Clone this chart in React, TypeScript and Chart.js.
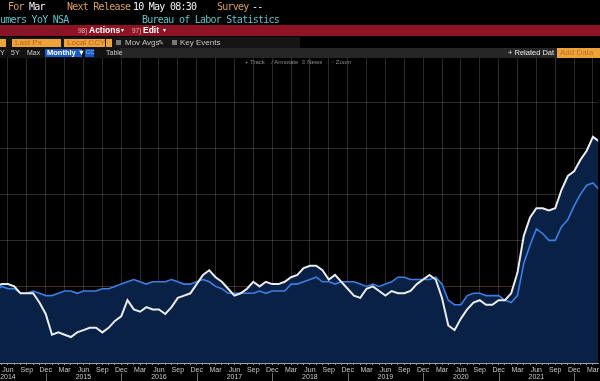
import React, { useEffect, useRef } from 'react';
import { Chart, registerables } from 'chart.js';

Chart.register(...registerables);

// ---------- data ----------
const MONTH_NAMES = ['Jan', 'Feb', 'Mar', 'Apr', 'May', 'Jun', 'Jul', 'Aug', 'Sep', 'Oct', 'Nov', 'Dec'];
const BASE_YEAR = 2014; // month index 0 = Jan 2014
const FIRST_MONTH_INDEX = 3; // series start: Apr 2014
const QUARTER_MONTHS = [2, 5, 8, 11]; // Mar, Jun, Sep, Dec
const Y_GRID_VALUES = [0, 2, 4, 6, 8, 10];

// CPI Urban Consumers YoY NSA (white line), Apr 2014 .. Apr 2022 (last point just off the right edge)
const cpiHeadline = [
  2.0, 2.1, 2.1, 2.0, 1.7, 1.7, 1.7, 1.3, 0.8,
  -0.1, 0.0, -0.1, -0.2, 0.0, 0.1, 0.2, 0.2, 0.0, 0.2, 0.5, 0.7,
  1.4, 1.0, 0.9, 1.1, 1.0, 1.0, 0.8, 1.1, 1.5, 1.6, 1.7, 2.1,
  2.5, 2.7, 2.4, 2.2, 1.9, 1.6, 1.7, 1.9, 2.2, 2.0, 2.2, 2.1,
  2.1, 2.2, 2.4, 2.5, 2.8, 2.9, 2.9, 2.7, 2.3, 2.5, 2.2, 1.9,
  1.6, 1.5, 1.9, 2.0, 1.8, 1.6, 1.8, 1.7, 1.7, 1.8, 2.1, 2.3,
  2.5, 2.3, 1.5, 0.3, 0.1, 0.6, 1.0, 1.3, 1.4, 1.2, 1.2, 1.4,
  1.4, 1.7, 2.6, 4.2, 5.0, 5.4, 5.4, 5.3, 5.4, 6.2, 6.8, 7.0,
  7.5, 7.9, 8.5, 8.3,
];

// Core CPI YoY (blue line), Apr 2014 .. Apr 2022
const cpiCore = [
  1.8, 2.0, 1.9, 1.9, 1.7, 1.7, 1.8, 1.7, 1.6,
  1.6, 1.7, 1.8, 1.8, 1.7, 1.8, 1.8, 1.8, 1.9, 1.9, 2.0, 2.1,
  2.2, 2.3, 2.2, 2.1, 2.2, 2.2, 2.2, 2.3, 2.2, 2.1, 2.1, 2.2,
  2.3, 2.2, 2.0, 1.9, 1.7, 1.7, 1.7, 1.7, 1.7, 1.8, 1.7, 1.8,
  1.8, 1.8, 2.1, 2.1, 2.2, 2.3, 2.4, 2.2, 2.2, 2.1, 2.2, 2.2,
  2.2, 2.1, 2.0, 2.1, 2.0, 2.1, 2.2, 2.4, 2.4, 2.3, 2.3, 2.3,
  2.3, 2.4, 2.1, 1.4, 1.2, 1.2, 1.6, 1.7, 1.7, 1.6, 1.6, 1.6,
  1.4, 1.3, 1.6, 3.0, 3.8, 4.5, 4.3, 4.0, 4.0, 4.6, 4.9, 5.5,
  6.0, 6.4, 6.5, 6.2,
];

const X_MIN = 3.732;
const X_MAX = 98.82;
const Y_MIN = -1.33;
const Y_MAX = 11.93;

// ---------- header helpers ----------
const MONO = '"DejaVu Sans Mono", "Liberation Mono", monospace';
const SANS = '"Liberation Sans", Arial, sans-serif';
const ORANGE = '#d9a060';
const CYAN = '#5cc3cc';

type TProps = { x: number; y: number; c: string; s?: number; f?: string; b?: boolean; ls?: number; children: React.ReactNode };
function T({ x, y, c, s = 8, f = SANS, b = false, ls = 0, children }: TProps) {
  return (
    <span
      style={{
        position: 'absolute',
        left: x,
        top: y,
        color: c,
        fontSize: s,
        fontFamily: f,
        fontWeight: b ? 700 : 400,
        letterSpacing: ls,
        lineHeight: '11px',
        whiteSpace: 'nowrap',
      }}
    >
      {children}
    </span>
  );
}

function Box({ x, y, w, h, bg }: { x: number; y: number; w: number; h: number; bg: string }) {
  return <div style={{ position: 'absolute', left: x, top: y, width: w, height: h, background: bg }} />;
}

function Header() {
  const mono = { f: MONO, s: 10, ls: -0.75 };
  return (
    <div style={{ position: 'absolute', left: 0, top: 0, width: 600, height: 70, zIndex: 2, pointerEvents: 'none' }}>
      {/* row 1 */}
      <T x={8} y={1} c={ORANGE} {...mono}>For</T>
      <T x={29} y={1} c="#f2f2f2" {...mono}>Mar</T>
      <T x={67} y={1} c={ORANGE} {...mono}>Next Release</T>
      <T x={133} y={1} c="#f2f2f2" {...mono}>10 May 08:30</T>
      <T x={217} y={1} c={ORANGE} {...mono}>Survey</T>
      <T x={252} y={1} c="#f2f2f2" {...mono}>--</T>
      {/* row 2 */}
      <T x={0} y={14} c={CYAN} {...mono}>umers YoY NSA</T>
      <T x={142} y={14} c={CYAN} {...mono}>Bureau of Labor Statistics</T>
      {/* row 3 red bar */}
      <Box x={0} y={25} w={600} h={11} bg="#8e1324" />
      <T x={1} y={25} c="#74202d" s={8}>Suggested Charts</T>
      <T x={78} y={25} c="#e0b8b8" s={6.5}>98)</T>
      <T x={89} y={25} c="#ffffff" s={8.5} b>Actions</T>
      <T x={121} y={25} c="#ffffff" s={6}>▾</T>
      <T x={132} y={25} c="#e0b8b8" s={6.5}>97)</T>
      <T x={143} y={25} c="#ffffff" s={8.5} b>Edit</T>
      <T x={163} y={25} c="#ffffff" s={6}>▾</T>
      {/* row 4 */}
      <Box x={0} y={37} w={300} h={11} bg="#171414" />
      <Box x={0} y={39} w={6} h={8} bg="#eea23a" />
      <Box x={12} y={39} w={49} h={8} bg="#eea23a" />
      <T x={15} y={36.5} c="#b8651c" s={8}>Last Px</T>
      <Box x={64} y={39} w={41} h={8} bg="#eea23a" />
      <T x={67} y={36.5} c="#b8651c" s={8}>Local CCY</T>
      <Box x={106} y={39} w={6} h={8} bg="#eea23a" />
      <Box x={116} y={40} w={5} h={5} bg="#777777" />
      <T x={125} y={36.5} c="#c8c8c8" s={8}>Mov Avgs</T>
      <T x={158} y={36.5} c="#c8c8c8" s={7}>✎</T>
      <Box x={172} y={40} w={5} h={5} bg="#777777" />
      <T x={180} y={36.5} c="#c8c8c8" s={8}>Key Events</T>
      {/* row 5 */}
      <Box x={0} y={48} w={120} h={10} bg="#121212" />
      <Box x={120} y={48} w={480} h={10} bg="#262626" />
      <T x={0} y={47} c="#cfcfcf" s={7}>Y</T>
      <T x={11} y={47} c="#cfcfcf" s={7}>5Y</T>
      <T x={27} y={47} c="#cfcfcf" s={7}>Max</T>
      <Box x={45} y={49} w={37} h={8} bg="#1d58c8" />
      <T x={47} y={47} c="#ffffff" s={7.5} b>Monthly ▼</T>
      <Box x={85} y={49} w={9} h={8} bg="#1d58c8" />
      <T x={86} y={47} c="#8fc0ff" s={6}>CC</T>
      <T x={106} y={47} c="#cfcfcf" s={7}>Table</T>
      <T x={508} y={47} c="#e8e8e8" s={7.5}>+ Related Dat</T>
      <Box x={557} y={48} w={43} h={10} bg="#eea23a" />
      <T x={560} y={47} c="#c0701d" s={8}>Add Data</T>
      {/* row 6 */}
      <T x={245} y={57} c="#8c8c8c" s={6}>+ Track</T>
      <T x={272} y={57} c="#8c8c8c" s={6}>⁄ Annotate</T>
      <T x={302} y={57} c="#8c8c8c" s={6}>≡ News</T>
      <T x={332} y={57} c="#8c8c8c" s={6}>◦ Zoom</T>
    </div>
  );
}

export default function App() {
  const canvasRef = useRef<HTMLCanvasElement>(null);

  useEffect(() => {
    document.body.style.margin = '0';
    document.body.style.background = '#000';
    const canvas = canvasRef.current;
    if (!canvas) return;

    const toPoints = (arr: number[]) => arr.map((v, i) => ({ x: FIRST_MONTH_INDEX + i, y: v }));

    const yearSeparators = {
      id: 'yearSeparators',
      afterDraw(chart: any) {
        const xs = chart.scales.x;
        const c = chart.ctx;
        const bottom = chart.chartArea.bottom;
        c.save();
        c.strokeStyle = 'rgba(200,200,200,0.55)';
        c.lineWidth = 1;
        for (let v = 11; v <= xs.max; v += 12) {
          if (v < xs.min) continue;
          const px = Math.round(xs.getPixelForValue(v)) + 0.5;
          c.beginPath();
          c.moveTo(px, bottom + 10);
          c.lineTo(px, chart.height);
          c.stroke();
        }
        c.restore();
      },
    };

    const chart = new Chart(canvas, {
      type: 'line',
      data: {
        datasets: [
          {
            label: 'CPI YoY NSA',
            data: toPoints(cpiHeadline),
            borderColor: '#ececec',
            borderWidth: 2,
            backgroundColor: '#0a2146',
            fill: 'start',
            pointRadius: 0,
            tension: 0,
          },
          {
            label: 'Core CPI YoY NSA',
            data: toPoints(cpiCore),
            borderColor: '#3c7fe4',
            borderWidth: 1.6,
            backgroundColor: '#0a2146',
            fill: 'start',
            pointRadius: 0,
            tension: 0,
          },
        ],
      },
      options: {
        animation: false,
        responsive: false,
        maintainAspectRatio: false,
        layout: { padding: { top: 58, left: 0, right: 0, bottom: 0 } },
        plugins: {
          legend: { display: false },
          tooltip: { enabled: false },
          filler: { drawTime: 'beforeDatasetsDraw' },
        } as any,
        scales: {
          x: {
            type: 'linear',
            min: X_MIN,
            max: X_MAX,
            z: 1,
            afterBuildTicks: (s: any) => {
              const t: { value: number }[] = [];
              for (let v = Math.ceil(X_MIN); v <= Math.floor(X_MAX); v++) t.push({ value: v });
              s.ticks = t;
            },
            afterFit: (s: any) => {
              s.height = 18;
            },
            grid: {
              color: (c: any) =>
                c.tick && QUARTER_MONTHS.includes(((c.tick.value % 12) + 12) % 12)
                  ? 'rgba(255,255,255,0.17)'
                  : 'rgba(0,0,0,0)',
              tickColor: 'rgba(210,210,210,0.7)',
              tickLength: 2,
              drawTicks: true,
            },
            border: { display: true, color: 'rgba(215,215,215,0.75)', width: 1 },
            ticks: {
              autoSkip: false,
              maxRotation: 0,
              minRotation: 0,
              color: '#c9c9c9',
              padding: 1,
              font: { size: 7, family: SANS, lineHeight: 1.05 },
              callback: (value: any) => {
                const v = Number(value);
                const m = ((v % 12) + 12) % 12;
                if (!QUARTER_MONTHS.includes(m)) return '';
                if (m === 5) return [MONTH_NAMES[m], String(BASE_YEAR + Math.floor(v / 12))];
                return MONTH_NAMES[m];
              },
            },
          },
          y: {
            type: 'linear',
            min: Y_MIN,
            max: Y_MAX,
            z: 1,
            afterBuildTicks: (s: any) => {
              s.ticks = Y_GRID_VALUES.map((v) => ({ value: v }));
            },
            afterFit: (s: any) => {
              s.width = 0;
            },
            ticks: { display: false },
            grid: {
              color: (c: any) => (c.tick && c.tick.value === 2 ? 'rgba(200,160,120,0.30)' : 'rgba(255,255,255,0.17)'),
              drawTicks: false,
            },
            border: { display: false },
          },
        },
      } as any,
      plugins: [yearSeparators],
    });

    return () => chart.destroy();
  }, []);

  return (
    <div style={{ position: 'relative', width: 600, height: 381, background: '#000', overflow: 'hidden' }}>
      <canvas
        ref={canvasRef}
        width={600}
        height={381}
        style={{ position: 'absolute', left: 0, top: 0, width: 600, height: 381, display: 'block' }}
      />
      <Header />
    </div>
  );
}
